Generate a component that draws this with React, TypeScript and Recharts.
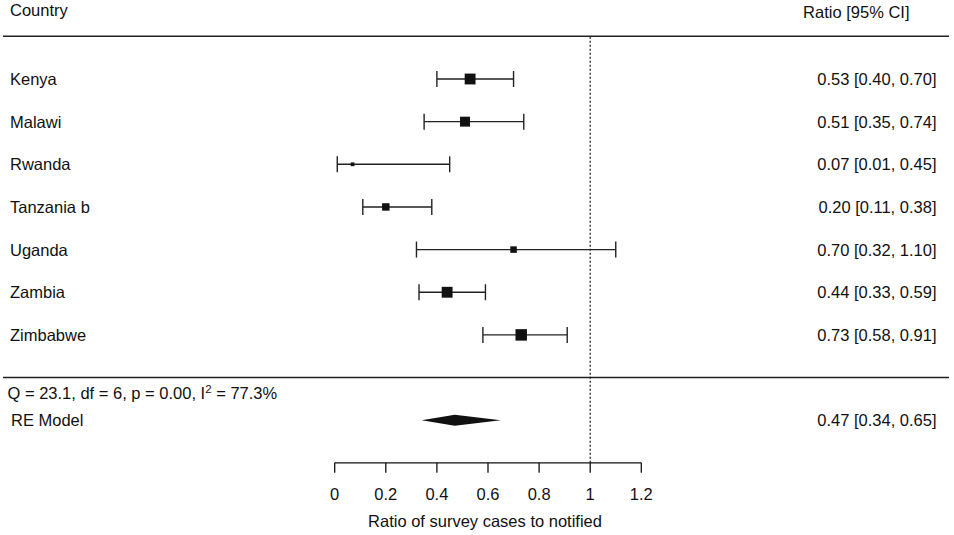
import React from 'react';
import { ScatterChart, Scatter, XAxis, YAxis, ErrorBar, ReferenceLine } from 'recharts';

// study rows, top to bottom
const countries = ['Kenya', 'Malawi', 'Rwanda', 'Tanzania b', 'Uganda', 'Zambia', 'Zimbabwe'];
const ratios = [0.53, 0.51, 0.07, 0.2, 0.7, 0.44, 0.73];
const lowerCI = [0.4, 0.35, 0.01, 0.11, 0.32, 0.33, 0.58];
const upperCI = [0.7, 0.74, 0.45, 0.38, 1.1, 0.59, 0.91];
const weights = [17.5, 16, 6, 12, 10.5, 17.5, 18.5];

// random effects summary
const reEstimate = 0.47;
const reLower = 0.34;
const reUpper = 0.65;
const qStat = '23.1';
const qDf = '6';
const qP = '0.00';
const iSquared = '77.3';

const xTicks = [0, 0.2, 0.4, 0.6, 0.8, 1, 1.2];

const FONT = '"Liberation Sans", Arial, Helvetica, sans-serif';
const INK = '#111';
const FS = 16.5;

const fmtCI = (est: number, lo: number, hi: number) =>
  `${est.toFixed(2)} [${lo.toFixed(2)}, ${hi.toFixed(2)}]`;

const studyRows = countries.map((name, i) => ({
  k: i + 1,
  name,
  est: ratios[i],
  err: [ratios[i] - lowerCI[i], upperCI[i] - ratios[i]],
  weight: weights[i],
  label: fmtCI(ratios[i], lowerCI[i], upperCI[i]),
}));

const summaryRow = countries.length + 2;
const diamondPoints = [reLower, reEstimate, reUpper].map((v) => ({ k: summaryRow, est: v }));
const summaryLabel = [{ k: summaryRow, est: reEstimate, label: fmtCI(reEstimate, reLower, reUpper) }];

const textProps = { fontFamily: FONT, fontSize: FS, fill: INK };

const StudyPoint = (props: any) => {
  const { cx, cy, payload } = props;
  const s = payload.weight * 0.62;
  return (
    <g>
      <rect x={cx - s / 2} y={cy - s / 2} width={s} height={s} fill={INK} />
      <text x={10} y={cy + 5.9} {...textProps}>{payload.name}</text>
      <text x={936.5} y={cy + 5.9} textAnchor="end" {...textProps}>{payload.label}</text>
    </g>
  );
};

const SummaryText = (props: any) => {
  const { cy, payload } = props;
  return (
    <g>
      <text x={7.5} y={cy - 21} {...textProps}>
        <tspan>{`Q = ${qStat}, df = ${qDf}, p = ${qP}, I`}</tspan>
        <tspan dy={-6} fontSize={11.5}>2</tspan>
        <tspan dy={6}>{` = ${iSquared}%`}</tspan>
      </text>
      <text x={11} y={cy + 5.9} {...textProps}>RE Model</text>
      <text x={936.5} y={cy + 5.9} textAnchor="end" {...textProps}>{payload.label}</text>
    </g>
  );
};

const diamondLine = (props: any) => {
  const pts = props.points;
  if (!pts || pts.length < 3) return <g />;
  const [a, m, b] = pts;
  const d = `M${a.x},${a.y} L${m.x},${m.y - 5.5} L${b.x},${b.y} L${m.x},${m.y + 5.5} Z`;
  return <path d={d} fill={INK} stroke="none" />;
};

const TopRule = (props: any) => (
  <g>
    <text x={10} y={props.y1 - 20} {...textProps}>Country</text>
    <text x={909.5} y={props.y1 - 18} textAnchor="end" {...textProps}>Ratio [95% CI]</text>
    <line x1={3} x2={949} y1={props.y1} y2={props.y1} stroke="#222" strokeWidth={1.5} />
  </g>
);

const BottomRule = (props: any) => (
  <line x1={3} x2={949} y1={props.y1} y2={props.y1} stroke="#222" strokeWidth={1.5} />
);

export default function App() {
  return (
    <div style={{ position: 'absolute', left: 0, top: 0, background: '#fff' }}>
      <ScatterChart
        width={954}
        height={535}
        margin={{ top: 36.35, right: 312.7, bottom: 32.15, left: 334.7 }}
        style={{ fontFamily: FONT }}
      >
        <XAxis
          type="number"
          dataKey="est"
          domain={[0, 1.2]}
          ticks={xTicks}
          tickFormatter={(v) => String(v)}
          tickSize={10}
          tickMargin={15}
          height={40}
          axisLine={{ stroke: INK, strokeWidth: 1.3 }}
          tickLine={{ stroke: INK, strokeWidth: 1.3 }}
          tick={{ fill: INK, fontSize: FS, fontFamily: FONT }}
          label={{
            value: 'Ratio of survey cases to notified',
            position: 'bottom',
            offset: 12,
            fill: INK,
            fontSize: FS,
            fontFamily: FONT,
            dx: -3,
          }}
        />
        <YAxis type="number" dataKey="k" domain={[0, 10]} reversed hide />
        <ReferenceLine y={0} shape={TopRule} />
        <ReferenceLine y={countries.length + 1} shape={BottomRule} />
        <ReferenceLine x={1} stroke={INK} strokeWidth={1.2} strokeDasharray="2 2" />
        <Scatter data={studyRows} shape={StudyPoint} isAnimationActive={false}>
          <ErrorBar dataKey="err" direction="x" width={8} stroke="#222" strokeWidth={1.4} />
        </Scatter>
        <Scatter
          data={diamondPoints}
          shape={() => <g />}
          line={diamondLine}
          isAnimationActive={false}
        />
        <Scatter data={summaryLabel} shape={SummaryText} isAnimationActive={false} />
      </ScatterChart>
    </div>
  );
}
